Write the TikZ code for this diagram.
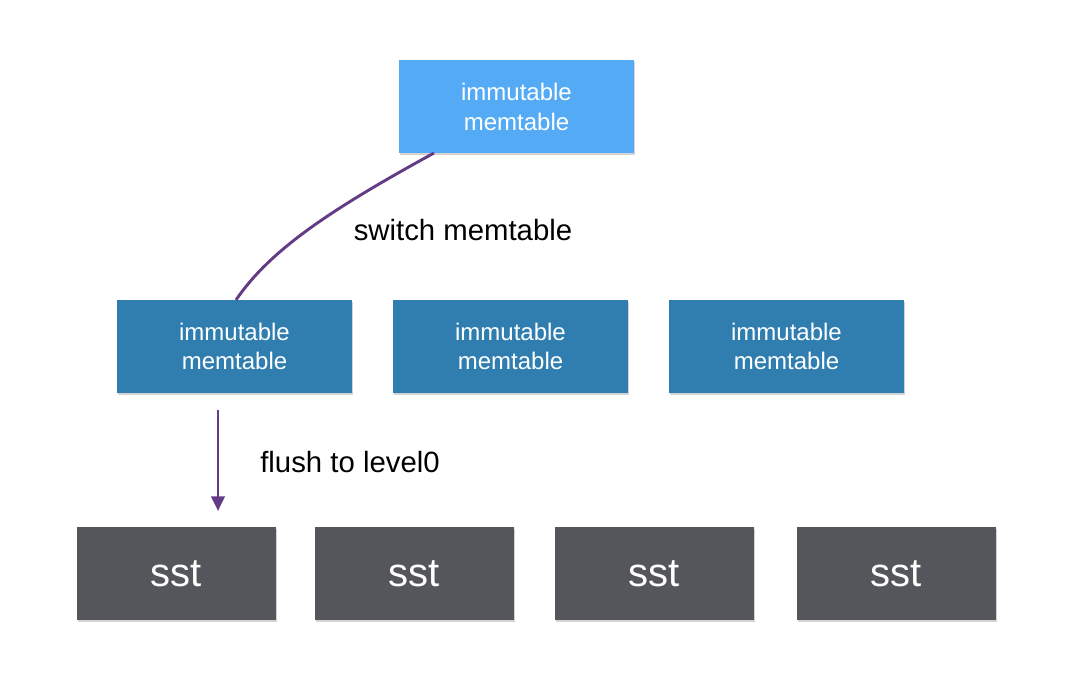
\documentclass[tikz,border=0pt]{standalone}
\usepackage{fontspec}
\setmainfont{Liberation Sans}
\usetikzlibrary{shadows,arrows.meta}
\definecolor{topblue}{HTML}{55AAF5}
\definecolor{midblue}{HTML}{2F7EAF}
\definecolor{sstgray}{HTML}{54565C}
\definecolor{arr}{HTML}{643C86}
\begin{document}
\begin{tikzpicture}[x=0.75pt,y=-0.75pt,
  box/.style={draw=none,minimum width=176.25pt,minimum height=69.75pt,text=white,align=center,font=\fontsize{18}{22}\selectfont,
    drop shadow={shadow xshift=0.8pt,shadow yshift=-1.2pt,opacity=0.35}},
  sst/.style={draw=none,fill=sstgray,minimum width=149.25pt,minimum height=69.75pt,text=white,font=\fontsize{30}{34}\selectfont,
    drop shadow={shadow xshift=0.8pt,shadow yshift=-1.2pt,opacity=0.35}},
  lbl/.style={font=\fontsize{22}{26}\selectfont}]
\useasboundingbox (0,0) rectangle (1072,698);
\node[box,fill=topblue] (t) at (516.5,107) {immutable\\memtable};
\node[box,fill=midblue] (m1) at (234.5,346.5) {immutable\\memtable};
\node[box,fill=midblue] (m2) at (510.5,346.5) {immutable\\memtable};
\node[box,fill=midblue] (m3) at (786.5,346.5) {immutable\\memtable};
\node[sst] (s1) at (176.5,573.5) {sst};
\node[sst] (s2) at (414.5,573.5) {sst};
\node[sst] (s3) at (654.5,573.5) {sst};
\node[sst] (s4) at (896.5,573.5) {sst};
\coordinate (c1) at (434,153);
\coordinate (c2) at (236,300);
\draw[arr,line width=2.2pt] (c1) .. controls (330,210) and (270,250) .. (c2);
\node[lbl] (l1) at (463,230) {switch memtable};
\coordinate (a1) at (218,410);
\coordinate (a2) at (218,511);
\draw[arr,line width=2.2pt,-{Triangle[length=11pt,width=10pt]}] (a1) -- (a2);
\node[lbl] (l2) at (350,462) {flush to level0};
\end{tikzpicture}
\end{document}
